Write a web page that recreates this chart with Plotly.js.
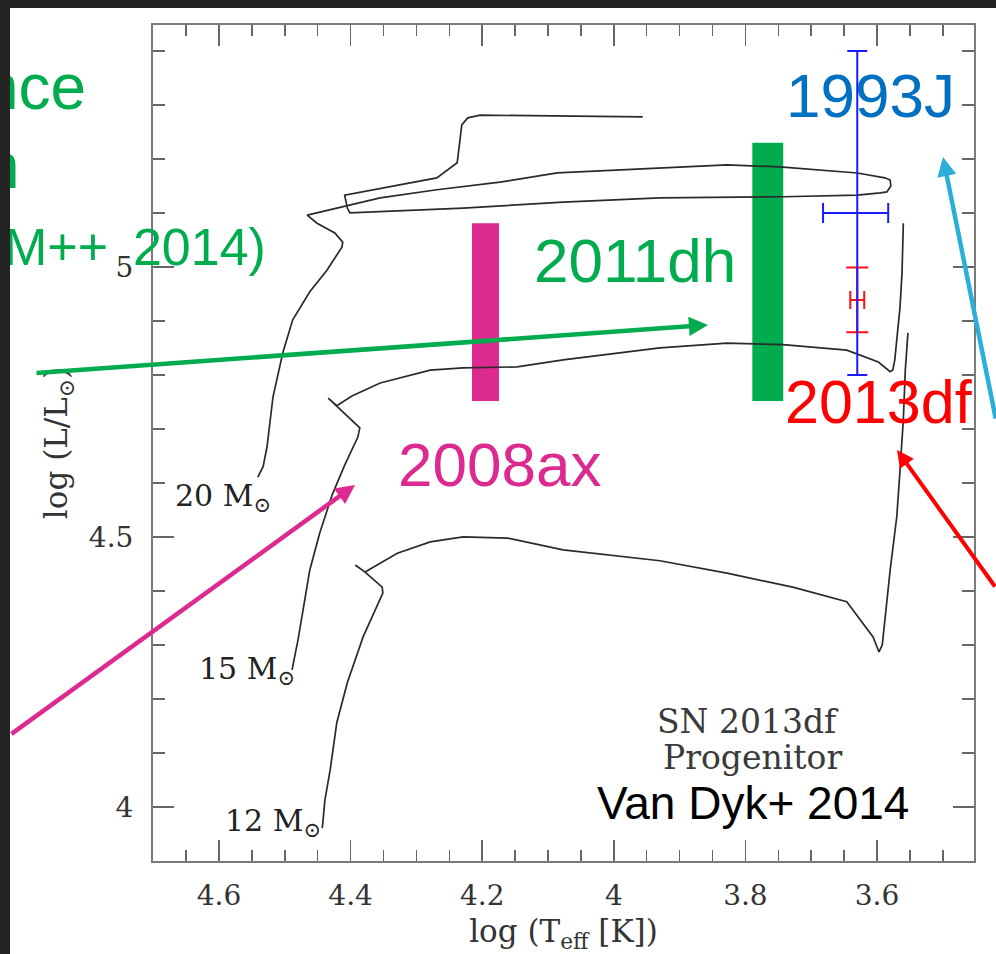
<!DOCTYPE html>
<html><head><meta charset="utf-8">
<script src="https://cdn.plot.ly/plotly-3.0.1.min.js"></script>
<style>
html,body{margin:0;padding:0;background:#232323;width:996px;height:954px;overflow:hidden}
#chart{position:absolute;left:10px;top:8px;width:986px;height:946px;background:#fff}
</style></head><body><div id="chart"></div>
<script>
// Evolutionary tracks: log Teff and log L/Lsun
const track20T = [4.541,4.533,4.527,4.518,4.503,4.488,4.462,4.436,4.413,4.412,4.424,4.451,4.466,4.405,4.355,4.269,4.173,4.086,3.930,3.828,3.743,3.630,3.588,3.580,3.579,3.585,3.595,3.630,3.743,3.930,4.077,4.229,4.401,4.405,4.409,4.269,4.238,4.231,4.222,4.203,3.956];
const track20L = [4.611,4.630,4.667,4.759,4.841,4.902,4.954,4.994,5.037,5.046,5.063,5.081,5.096,5.113,5.128,5.143,5.157,5.174,5.183,5.189,5.185,5.174,5.165,5.161,5.150,5.139,5.137,5.133,5.130,5.128,5.120,5.109,5.100,5.109,5.133,5.165,5.193,5.263,5.276,5.281,5.278];
const track15T = [4.489,4.480,4.471,4.462,4.447,4.428,4.409,4.389,4.386,4.421,4.434,4.421,4.398,4.355,4.279,4.229,4.147,4.077,3.930,3.828,3.743,3.646,3.598,3.580,3.576,3.573,3.565,3.562,3.560];
const track15L = [4.254,4.309,4.374,4.439,4.507,4.578,4.633,4.685,4.702,4.741,4.757,4.743,4.761,4.785,4.809,4.813,4.815,4.828,4.850,4.859,4.856,4.846,4.824,4.806,4.809,4.828,4.926,4.989,5.081];
const track12T = [4.443,4.439,4.431,4.421,4.405,4.381,4.351,4.352,4.378,4.393,4.378,4.329,4.279,4.229,4.162,4.077,3.930,3.828,3.728,3.646,3.606,3.597,3.592,3.580,3.570,3.565,3.560,3.557,3.553];
const track12L = [3.961,4.013,4.069,4.156,4.230,4.315,4.396,4.407,4.435,4.448,4.435,4.470,4.491,4.500,4.498,4.476,4.456,4.433,4.407,4.380,4.315,4.287,4.300,4.439,4.537,4.624,4.717,4.809,4.878];

// Progenitor ranges (2008ax, 2011dh)
const progNames = ['2008ax','2011dh'];
const progT = [4.195, 3.766];
const progLmin = [4.752, 4.752];
const progLmax = [5.081, 5.230];

// Progenitor points with error bars
const sn93T = [3.630], sn93L = [5.10], sn93Tplus = [0.052], sn93Tminus = [0.047], sn93Lerr = [0.30];
const sn13T = [3.630], sn13L = [4.939], sn13Terr = [0.0106], sn13Lerr = [0.06];

const trackColor = '#2a2a2a';
const GREEN = '#00ac4e', PINK = '#dd2a91', CYAN = '#2bafd9', BLUE93 = '#0070c0';

const PX = px => (px - 153) / 821;   // page pixel -> paper x
const PY = py => (861 - py) / 836;   // page pixel -> paper y

const traces = [
  {x: track20T, y: track20L, type: 'scatter', mode: 'lines', line: {color: trackColor, width: 1.7}, hoverinfo: 'skip'},
  {x: track15T, y: track15L, type: 'scatter', mode: 'lines', line: {color: trackColor, width: 1.7}, hoverinfo: 'skip'},
  {x: track12T, y: track12L, type: 'scatter', mode: 'lines', line: {color: trackColor, width: 1.7}, hoverinfo: 'skip'},
  {x: progT, base: progLmin, y: progLmax.map((v, i) => v - progLmin[i]), type: 'bar', name: 'progenitors',
   width: [0.041, 0.047], marker: {color: [PINK, GREEN], line: {width: 0}}, hoverinfo: 'skip'},
  {x: sn13T, y: sn13L, type: 'scatter', mode: 'markers', marker: {size: 1, color: '#ff1010'},
   error_x: {type: 'data', array: sn13Terr, color: '#ff1010', thickness: 2, width: 9},
   error_y: {type: 'data', array: sn13Lerr, color: '#ff1010', thickness: 2, width: 11}},
  {x: sn93T, y: sn93L, type: 'scatter', mode: 'markers', marker: {size: 1, color: '#1a1aff'},
   error_x: {type: 'data', symmetric: false, array: sn93Tplus, arrayminus: sn93Tminus, color: '#1a1aff', thickness: 2, width: 10},
   error_y: {type: 'data', array: sn93Lerr, color: '#1a1aff', thickness: 2, width: 10}}
];

const serif = 'DejaVu Serif';
const sans = 'Liberation Sans, Arial, sans-serif';
const narrow = 'Liberation Sans Narrow, Liberation Sans';
const txt = (text, px, py, size, color, family, extra) => Object.assign({
  text, x: PX(px), y: PY(py), xref: 'paper', yref: 'paper', showarrow: false,
  xanchor: 'center', yanchor: 'middle', font: {family: family || sans, size, color}
}, extra || {});
const arrow = (hx, hy, tx, ty, color, w) => ({
  text: '', x: PX(hx), y: PY(hy), xref: 'paper', yref: 'paper', showarrow: true,
  ax: tx - hx, ay: ty - hy, arrowhead: 2, arrowsize: 0.85, arrowwidth: w, arrowcolor: color, standoff: 0
});

const annotations = [
  txt('nce', 88, 87, 64, GREEN, narrow, {xanchor: 'right'}),
  txt('n', 22, 166, 64, GREEN, narrow, {xanchor: 'right'}),
  txt('(KM++\u2009 2014)', 268, 247, 52, GREEN, sans, {xanchor: 'right'}),
  txt('1993J', 870, 96, 62, BLUE93),
  txt('2011dh', 635, 260, 62, GREEN),
  txt('2008ax', 499, 464, 62, PINK),
  txt('2013df', 879, 402, 61, '#ff0000'),
  txt('Van Dyk+ 2014', 753, 803, 46, '#000'),
  txt('SN 2013df', 748, 721, 33, '#3a3a3a', serif),
  txt('Progenitor', 752, 757, 33, '#3a3a3a', serif),
  txt('20 M<sub>⊙</sub>', 173, 497, 30, '#222', serif, {xanchor: 'left'}),
  txt('15 M<sub>⊙</sub>', 197, 670, 30, '#222', serif, {xanchor: 'left'}),
  txt('12 M<sub>⊙</sub>', 223, 822, 30, '#222', serif, {xanchor: 'left'}),
  arrow(708, 325, 35, 373, GREEN, 4.5),
  arrow(355, 485, -20, 735, PINK, 4.5),
  arrow(943, 157, 1007, 420, CYAN, 4.5),
  arrow(897, 450, 1030, 588, '#ff0000', 4)
];

const axisCommon = {
  showline: true, linecolor: '#7a7a7a', linewidth: 2, mirror: 'ticks',
  ticks: 'inside', ticklen: 21, tickwidth: 1.5, tickcolor: '#666',
  showgrid: false, zeroline: false,
  tickfont: {family: serif, size: 28, color: '#333'}
};

const layout = {
  width: 986, height: 946,
  margin: {l: 143, r: 22, t: 17, b: 93},
  paper_bgcolor: '#ffffff', plot_bgcolor: '#ffffff',
  showlegend: false, barmode: 'overlay',
  xaxis: Object.assign({}, axisCommon, {
    range: [4.7003, 3.4526], tick0: 0, dtick: 0.2, ticklabelstandoff: 8,
    minor: {dtick: 0.05, ticks: 'inside', ticklen: 11, tickwidth: 1.5, tickcolor: '#666', showgrid: false},
    title: {text: 'log (T<sub>eff</sub> [K])', font: {family: serif, size: 31, color: '#333'}, standoff: 22}
  }),
  yaxis: Object.assign({}, axisCommon, {
    range: [3.9, 5.448], tick0: 0, dtick: 0.5, ticklabelstandoff: 12,
    minor: {dtick: 0.1, ticks: 'inside', ticklen: 12, tickwidth: 1.5, tickcolor: '#666', showgrid: false},
    title: {text: 'log (L/L<sub>⊙</sub>)', font: {family: serif, size: 31, color: '#333'}, standoff: 12}
  }),
  annotations
};

Plotly.newPlot('chart', traces, layout, {staticPlot: true, displayModeBar: false});
</script></body></html>
